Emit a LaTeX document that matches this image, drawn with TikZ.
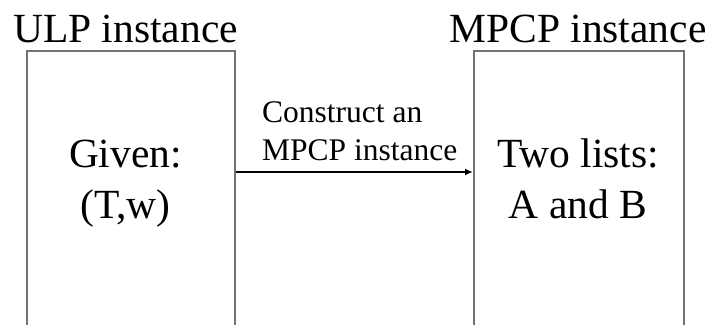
\documentclass[tikz,border=0pt]{standalone}
\usepackage{fontspec}
\setmainfont{Liberation Serif}
\usetikzlibrary{arrows.meta}
\tikzset{
  instbox/.style={draw=black!55, line width=1.5pt, minimum width=208pt, minimum height=300pt, anchor=north west, inner sep=0pt},
  bigtext/.style={font=\fontsize{41.5}{51}\selectfont, inner sep=0pt, align=center},
  smalltext/.style={font=\fontsize{31.5}{38}\selectfont, inner sep=0pt, align=left},
  conn/.style={line width=2.4pt, -{Latex[length=8pt,width=7pt]}}
}
\begin{document}
\begin{tikzpicture}[x=1pt,y=-1pt]
\useasboundingbox (0,0) rectangle (709,324);
\clip (0,0) rectangle (709,324);
\node[instbox] (ulp) at (26,50) {};
\node[instbox, minimum width=210pt] (mpcp) at (473,50) {};
\node[bigtext, anchor=base] (ulptitle) at (125.5,42) {ULP instance};
\node[bigtext, anchor=base] (mpcptitle) at (578,42) {MPCP instance};
\node[bigtext, anchor=base] (given) at (125.5,218) {Given:\\(T,w)};
\node[bigtext, anchor=base] (lists) at (578,218) {Two lists:\\A and B};
\coordinate (arr) at (300,172);
\draw[conn] (ulp.east |- arr) -- (mpcp.west |- arr);
\node[smalltext, anchor=base west] (lbl) at (262,160) {Construct an\\MPCP instance};
\end{tikzpicture}
\end{document}
